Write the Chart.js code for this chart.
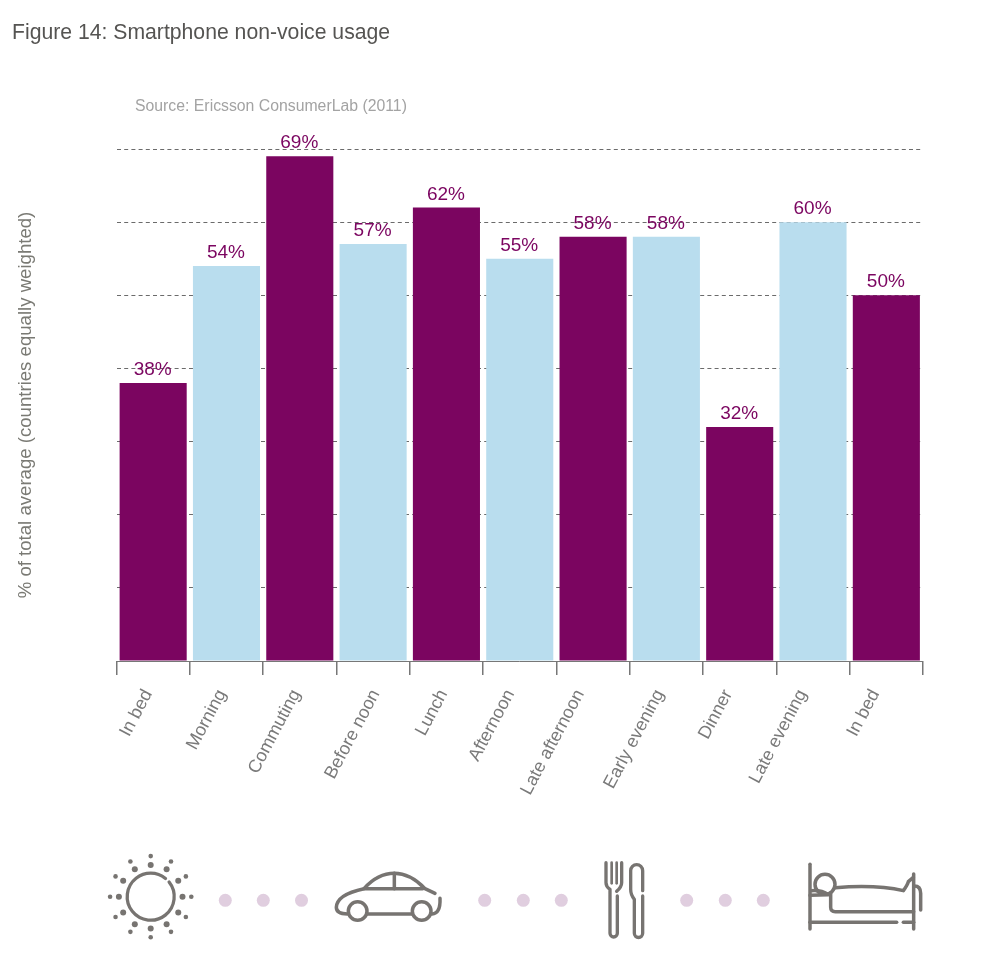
<!DOCTYPE html>
<html>
<head>
<meta charset="utf-8">
<script src="https://cdn.jsdelivr.net/npm/chart.js@4"></script>
<style>
html,body{margin:0;padding:0;background:#fff;width:1004px;height:966px;overflow:hidden}
#wrap{position:absolute;left:0;top:0;width:1004px;height:966px}
.t{position:absolute;font-family:"Liberation Sans",Arial,sans-serif;white-space:nowrap}
#title{left:12px;top:20px;font-size:21.2px;color:#555452}
#source{left:135px;top:97px;font-size:15.8px;color:#a3a3a3}
</style>
</head>
<body>
<div id="wrap">
<canvas id="c" width="1004" height="966"></canvas>
<div class="t" id="title">Figure 14: Smartphone non-voice usage</div>
<div class="t" id="source">Source: Ericsson ConsumerLab (2011)</div>
</div>
<script>
const categories = ["In bed","Morning","Commuting","Before noon","Lunch","Afternoon","Late afternoon","Early evening","Dinner","Late evening","In bed"];
const usage = [38,54,69,57,62,55,58,58,32,60,50];
const barColours = ["#7b0560","#b9ddee","#7b0560","#b9ddee","#7b0560","#b9ddee","#7b0560","#b9ddee","#7b0560","#b9ddee","#7b0560"];
const yAxisTitle = "% of total average (countries equally weighted)";
const FONT = '"Liberation Sans", Arial, sans-serif';
const labelNudge = [1.5,2,3,9,3.5,-3,-6.5,0,-5,-4,-4.5];

const nudgeLabels = {
  id:'nudgeLabels',
  beforeDraw(chart){
    if(chart.$nudged) return;
    chart.$nudged = true;
    chart.scales.x.getLabelItems().forEach((it,i)=>{ it.options.translation[0] += labelNudge[i]; });
  }
};

const valueLabels = {
  id:'valueLabels',
  afterDatasetsDraw(chart){
    const ctx = chart.ctx, bars = chart.getDatasetMeta(0).data;
    ctx.save();
    ctx.font = '19px '+FONT;
    ctx.fillStyle = '#7b0560';
    ctx.textAlign = 'center';
    ctx.textBaseline = 'alphabetic';
    bars.forEach((b,i)=>ctx.fillText(usage[i]+'%', b.x-0.5, b.y-8));
    ctx.restore();
  }
};

function drawDots(ctx){
  ctx.fillStyle = '#e0cedf';
  [225.3,263.3,301.5,484.7,523.3,561.3,686.7,725.3,763.3].forEach(x=>{
    ctx.beginPath(); ctx.arc(x,900.3,6.5,0,Math.PI*2); ctx.fill();
  });
}
function drawSun(ctx){
  const cx=150.7, cy=896.7;
  ctx.lineWidth=3.3;
  ctx.beginPath(); ctx.arc(cx,cy,23.5,-Math.PI/2+0.9,-Math.PI/2+0.68+Math.PI*2); ctx.stroke();
  for(let i=0;i<12;i++){
    const a=i*Math.PI/6;
    ctx.beginPath(); ctx.arc(cx+31.8*Math.cos(a),cy+31.8*Math.sin(a),3,0,Math.PI*2); ctx.fill();
    ctx.beginPath(); ctx.arc(cx+40.6*Math.cos(a),cy+40.6*Math.sin(a),2.3,0,Math.PI*2); ctx.fill();
  }
}
function zoomSpace(ctx,ox,fn){
  ctx.save(); ctx.translate(ox,830); ctx.scale(1/3,1/3); ctx.lineWidth=10.5; fn(); ctx.restore();
}
function poly(ctx,pts){ctx.beginPath();pts.forEach((p,i)=>i?ctx.lineTo(p[0],p[1]):ctx.moveTo(p[0],p[1]));ctx.stroke();}
function drawCar(ctx){
  zoomSpace(ctx,0,()=>{
    ctx.beginPath();
    ctx.moveTo(1305,190); ctx.lineTo(1275,176);
    ctx.bezierCurveTo(1245,145,1215,130,1183,130);
    ctx.bezierCurveTo(1150,130,1120,145,1092,176);
    ctx.bezierCurveTo(1050,185,1010,200,1009,232);
    ctx.quadraticCurveTo(1009,252,1042,252);
    ctx.stroke();
    poly(ctx,[[1092,176],[1268,176]]);
    poly(ctx,[[1183,130],[1183,176]]);
    poly(ctx,[[1102,252],[1236,252]]);
    ctx.beginPath(); ctx.arc(1073,243,28,0,Math.PI*2); ctx.stroke();
    ctx.beginPath(); ctx.arc(1265,243,28,0,Math.PI*2); ctx.stroke();
    ctx.beginPath(); ctx.moveTo(1320,205); ctx.quadraticCurveTo(1322,250,1296,252); ctx.stroke();
  });
}
function drawCutlery(ctx){
  zoomSpace(ctx,500,()=>{
    ctx.lineWidth=8;
    poly(ctx,[[335,98],[335,160]]);
    poly(ctx,[[350,98],[350,160]]);
    ctx.lineWidth=10;
    ctx.beginPath(); ctx.moveTo(318,98); ctx.lineTo(318,158); ctx.quadraticCurveTo(318,170,330,178);
    ctx.lineTo(330,310); ctx.arc(341,310,11,Math.PI,0,true); ctx.lineTo(352,198); ctx.stroke();
    ctx.beginPath(); ctx.moveTo(365,98); ctx.lineTo(365,158); ctx.quadraticCurveTo(365,170,350,184); ctx.stroke();
    ctx.beginPath(); ctx.moveTo(428,182); ctx.lineTo(428,122); ctx.arc(410,122,18,0,Math.PI,true);
    ctx.lineTo(392,178); ctx.quadraticCurveTo(392,195,403,208); ctx.lineTo(403,310);
    ctx.arc(415.5,310,12.5,Math.PI,0,true); ctx.lineTo(428,198); ctx.stroke();
  });
}
function drawBed(ctx){
  zoomSpace(ctx,500,()=>{
    poly(ctx,[[930,103],[930,297]]);
    poly(ctx,[[1241,132],[1241,297]]);
    poly(ctx,[[930,277],[1190,277]]);
    poly(ctx,[[1210,277],[1241,277]]);
    ctx.beginPath(); ctx.arc(975,163,30,0,Math.PI*2); ctx.stroke();
    ctx.beginPath(); ctx.moveTo(1006,173); ctx.bezierCurveTo(1070,168,1140,166,1210,182);
    ctx.quadraticCurveTo(1222,165,1225,155); ctx.lineTo(1240,142); ctx.stroke();
    ctx.beginPath(); ctx.moveTo(1243,168); ctx.quadraticCurveTo(1262,168,1262,190); ctx.lineTo(1262,240); ctx.stroke();
    ctx.beginPath(); ctx.moveTo(992,190); ctx.lineTo(992,232); ctx.quadraticCurveTo(992,245,1006,245); ctx.lineTo(1241,245); ctx.stroke();
    ctx.beginPath(); ctx.moveTo(935,182); ctx.quadraticCurveTo(965,180,985,194); ctx.lineTo(930,196); ctx.stroke();
  });
}
const decoration = {
  id:'decoration',
  afterDraw(chart){
    const ctx = chart.ctx;
    ctx.save();
    drawDots(ctx);
    ctx.strokeStyle='#777471'; ctx.fillStyle='#777471';
    ctx.lineCap='round'; ctx.lineJoin='round';
    drawSun(ctx); drawCar(ctx); drawCutlery(ctx); drawBed(ctx);
    ctx.restore();
  }
};

new Chart(document.getElementById('c'),{
  type:'bar',
  data:{labels:categories,datasets:[{data:usage,backgroundColor:barColours,borderWidth:0,barPercentage:0.915,categoryPercentage:1}]},
  plugins:[nudgeLabels,valueLabels,decoration],
  options:{
    responsive:false,
    animation:false,
    layout:{padding:{left:0,right:81,top:149,bottom:0}},
    plugins:{legend:{display:false},tooltip:{enabled:false},title:{display:false}},
    scales:{
      x:{
        offset:true,
        afterFit(s){s.height=966-661;},
        grid:{offset:true,drawOnChartArea:false,drawTicks:true,tickLength:14,color:'#777',lineWidth:1.5},
        border:{display:true,color:'#777',width:1},
        ticks:{autoSkip:false,minRotation:62,maxRotation:62,padding:11,labelOffset:-6.5,color:'#7a7a7a',font:{family:FONT,size:18}}
      },
      y:{
        min:0,max:70,
        afterFit(s){s.width=116.5;},
        border:{display:false,dash:[4,3.2]},
        grid:{drawTicks:false,color:c=>c.tick.value===0?'rgba(0,0,0,0)':'#6b6b6b',lineWidth:1},
        ticks:{display:false,stepSize:10},
        title:{display:true,text:yAxisTitle,color:'#7a7a74',font:{family:FONT,size:18.6},padding:{top:15,bottom:0}}
      }
    }
  }
});
</script>
</body>
</html>
